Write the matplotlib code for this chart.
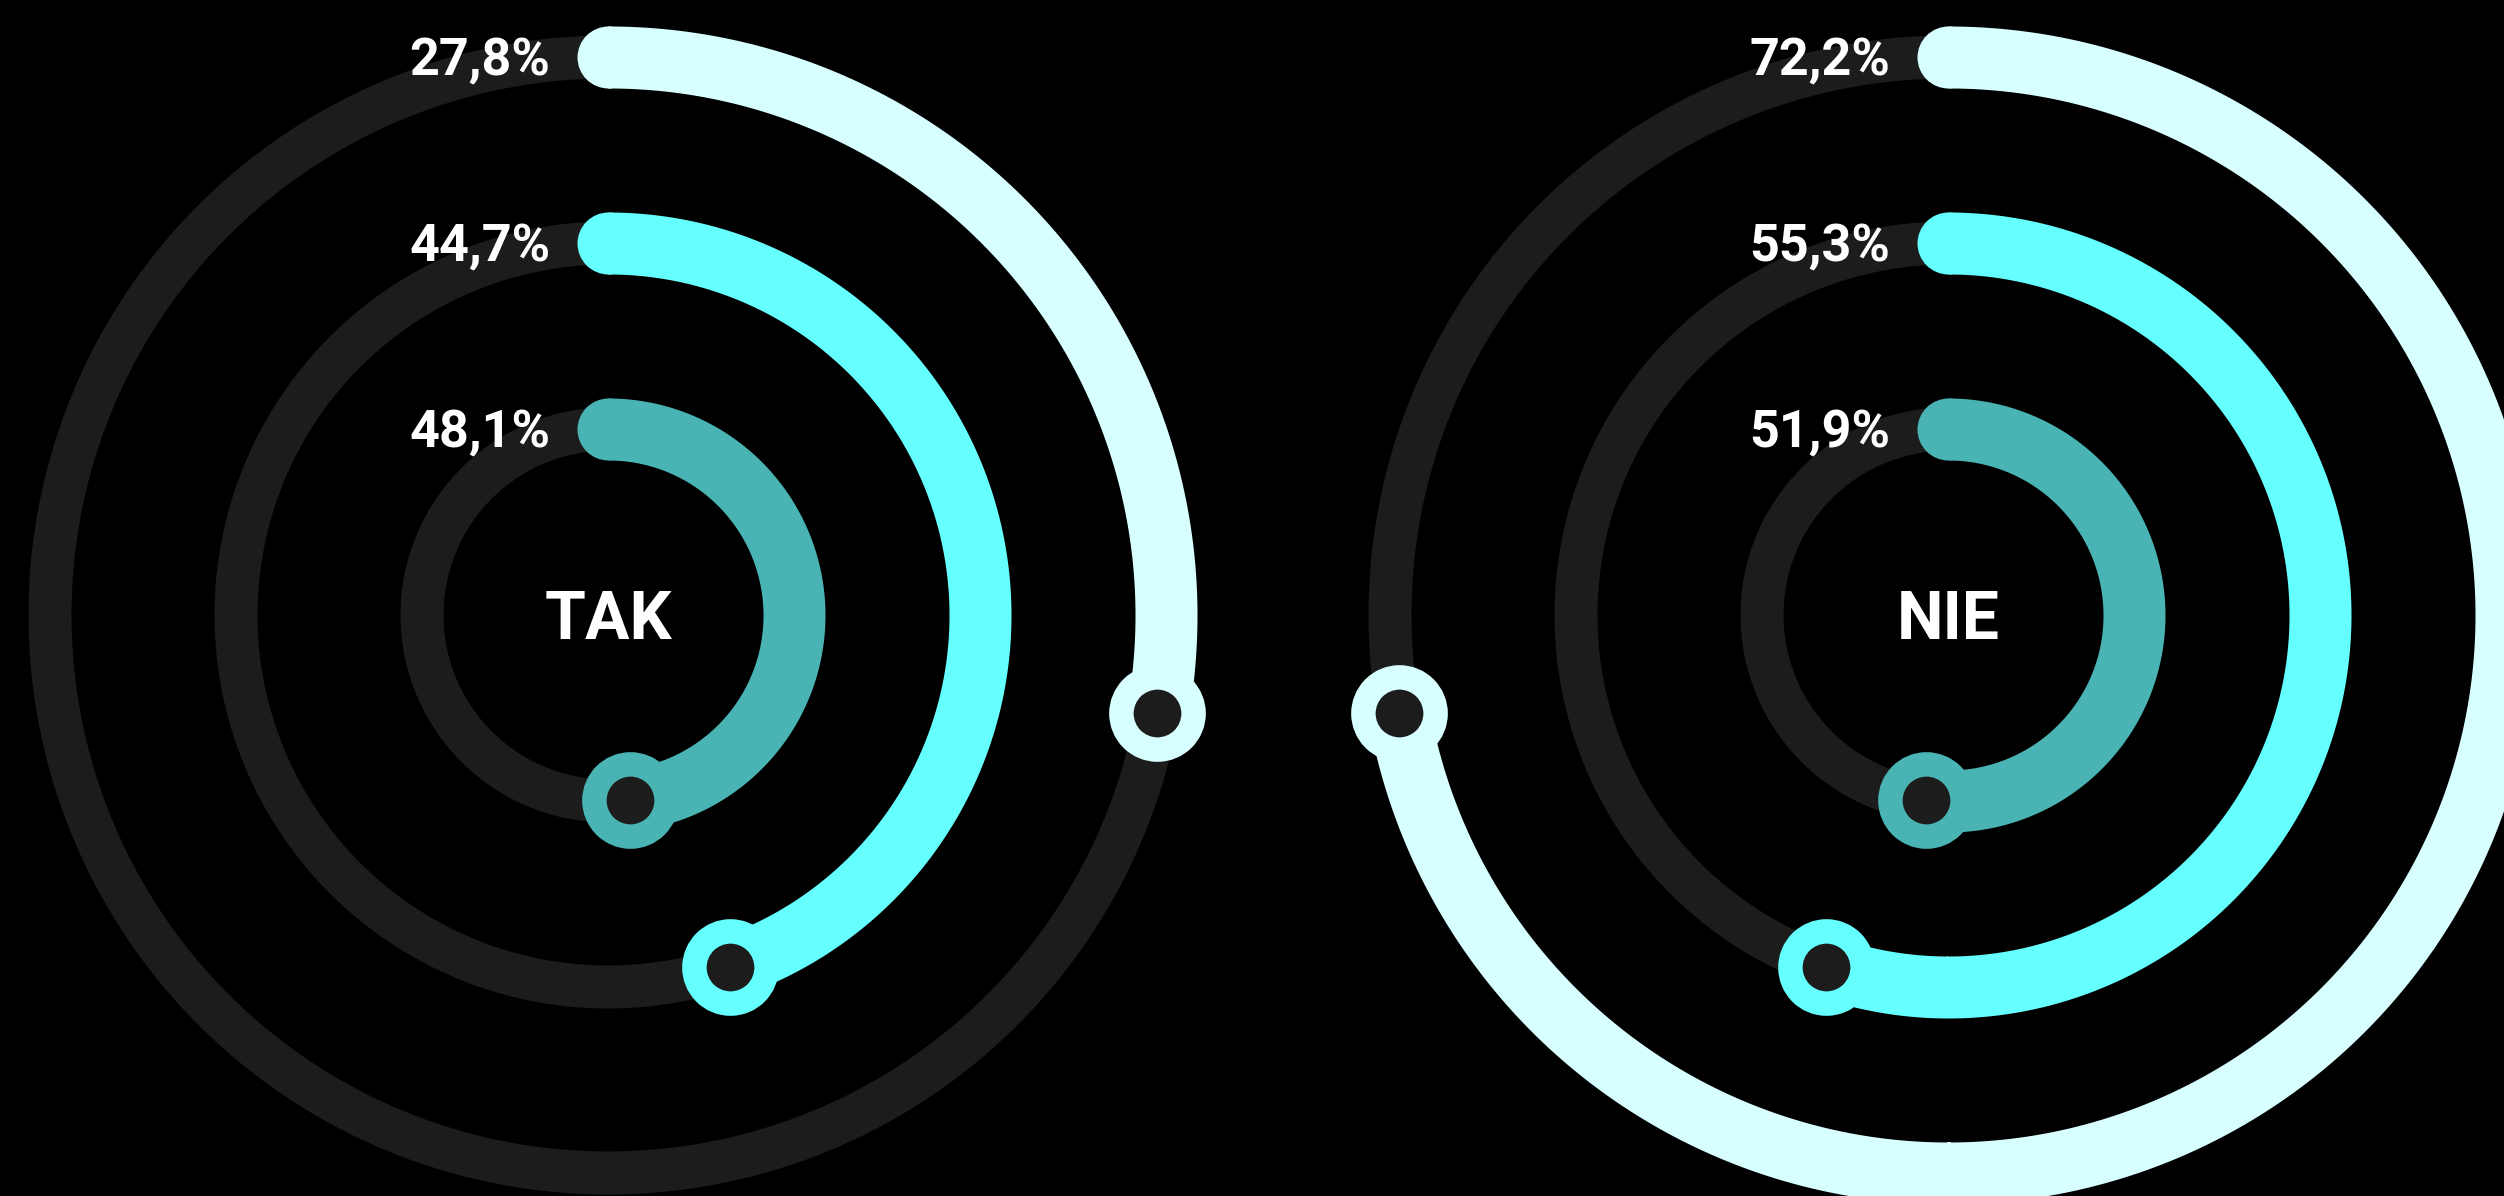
import numpy as np
import matplotlib
matplotlib.use("Agg")
import matplotlib.pyplot as plt

# dane
kategorie = ["TAK", "NIE"]
wartosci_tak = [27.8, 44.7, 48.1]   # pierścień zewnętrzny -> wewnętrzny
wartosci_nie = [72.2, 55.3, 51.9]
kolory = ["#d8ffff", "#66ffff", "#4ab4b4"]

tlo = "#000000"
tor = "#1c1c1c"
promienie = [558, 372, 186]      # px
srodki_x = [608, 1948]           # px
srodek_y = 615                   # px od góry
grubosc = 62                     # px, grubość łuku

W, H = 2504, 1196
R_ax = 640

fig = plt.figure(figsize=(W / 100, H / 100), dpi=100, facecolor=tlo)


def pierscienie(cx, nazwa, wartosci):
    ax = fig.add_axes([(cx - R_ax) / W, (H - srodek_y - R_ax) / H, 2 * R_ax / W, 2 * R_ax / H],
                      projection="polar")
    ax.set_theta_zero_location("N")
    ax.set_theta_direction(-1)
    ax.set_ylim(0, R_ax)
    ax.axis("off")
    ax.patch.set_visible(False)

    pelny = np.linspace(0, 2 * np.pi, 721)
    for r, v, kol in zip(promienie, wartosci, kolory):
        ax.plot(pelny, np.full_like(pelny, r), color=tor, lw=31, solid_capstyle="butt", zorder=1)
        koniec = np.deg2rad(v * 3.6)
        th = np.linspace(0, koniec, 500)
        # łuk jako wypełnienie (bez przycinania ścieżki na krawędzi obrazu)
        ax.fill_between(th, r - grubosc / 2, r + grubosc / 2, color=kol, lw=0, zorder=2)
        ax.plot([0], [r], "o", ms=grubosc * 0.72, color=kol, mew=0, zorder=2)
        ax.plot([koniec], [r], "o", ms=52, mfc=tor, mec=kol, mew=17.6, zorder=3)
        ax.annotate(f"{v:.1f}%".replace(".", ","), xy=(0, r), xytext=(-41.5, -13.3),
                    textcoords="offset points", ha="right", va="baseline",
                    color="white", fontsize=37.5, fontweight="bold", family="Roboto", zorder=4)

    ax.annotate(nazwa, xy=(0, 0), xytext=(0, -17), textcoords="offset points",
                ha="center", va="baseline", color="white", fontsize=47.5,
                fontweight="bold", family="Roboto", zorder=4)


pierscienie(srodki_x[0], kategorie[0], wartosci_tak)
pierscienie(srodki_x[1], kategorie[1], wartosci_nie)

fig.savefig("out.png", dpi=100, facecolor=tlo)
